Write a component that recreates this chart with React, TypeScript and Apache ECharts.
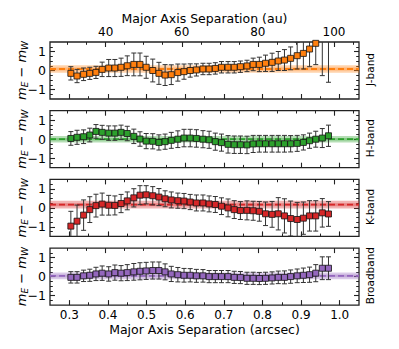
import React, { useEffect, useRef } from 'react';
import * as echarts from 'echarts';

const SEP_ARCSEC = [0.304, 0.320, 0.337, 0.353, 0.369, 0.385, 0.402, 0.418, 0.434, 0.450, 0.467, 0.483, 0.499, 0.516, 0.532, 0.548, 0.564, 0.581, 0.597, 0.613, 0.629, 0.646, 0.662, 0.678, 0.694, 0.711, 0.727, 0.743, 0.760, 0.776, 0.792, 0.808, 0.825, 0.841, 0.857, 0.873, 0.890, 0.906, 0.922, 0.938, 0.955, 0.971];

const J_DIFF = [-0.15, -0.29, -0.2, -0.15, -0.1, 0.06, 0.13, 0.13, 0.17, 0.25, 0.32, 0.32, 0.17, 0.0, -0.15, -0.24, -0.22, -0.11, -0.06, 0.0, 0.03, 0.08, 0.08, 0.11, 0.17, 0.17, 0.17, 0.2, 0.24, 0.32, 0.32, 0.38, 0.43, 0.5, 0.55, 0.64, 0.78, 0.9, 1.13, 1.43, 2.0, 2.2];
const J_ERR = [0.35, 0.35, 0.33, 0.32, 0.32, 0.38, 0.45, 0.45, 0.48, 0.52, 0.6, 0.6, 0.58, 0.6, 0.58, 0.55, 0.52, 0.45, 0.4, 0.35, 0.32, 0.3, 0.3, 0.3, 0.3, 0.3, 0.3, 0.3, 0.3, 0.33, 0.38, 0.43, 0.48, 0.5, 0.55, 0.6, 0.7, 0.82, 0.93, 1.12, 2.27, 2.82];

const H_DIFF = [0.04, 0.1, 0.13, 0.22, 0.41, 0.36, 0.32, 0.32, 0.36, 0.3, 0.15, 0.01, -0.1, -0.11, -0.17, -0.13, -0.06, 0.0, 0.06, 0.06, 0.04, 0.0, -0.03, -0.13, -0.18, -0.27, -0.29, -0.29, -0.3, -0.25, -0.24, -0.24, -0.24, -0.24, -0.24, -0.24, -0.22, -0.17, -0.08, 0.0, 0.06, 0.18];
const H_ERR = [0.36, 0.37, 0.36, 0.36, 0.36, 0.37, 0.38, 0.38, 0.38, 0.38, 0.38, 0.38, 0.4, 0.4, 0.4, 0.4, 0.42, 0.44, 0.46, 0.46, 0.46, 0.45, 0.45, 0.45, 0.45, 0.46, 0.46, 0.46, 0.46, 0.45, 0.44, 0.44, 0.44, 0.44, 0.44, 0.43, 0.42, 0.4, 0.4, 0.42, 0.5, 0.56];

const K_DIFF = [-0.96, -0.7, -0.38, -0.09, 0.12, 0.2, 0.14, 0.13, 0.23, 0.37, 0.53, 0.67, 0.69, 0.64, 0.57, 0.48, 0.42, 0.38, 0.36, 0.31, 0.26, 0.26, 0.21, 0.18, 0.09, 0.0, -0.09, -0.14, -0.13, -0.15, -0.18, -0.31, -0.34, -0.31, -0.42, -0.56, -0.61, -0.54, -0.42, -0.42, -0.26, -0.32];
const K_ERR = [0.78, 0.85, 0.8, 0.68, 0.6, 0.58, 0.52, 0.5, 0.48, 0.47, 0.48, 0.5, 0.48, 0.48, 0.45, 0.42, 0.42, 0.4, 0.4, 0.4, 0.42, 0.42, 0.42, 0.42, 0.44, 0.47, 0.47, 0.47, 0.5, 0.5, 0.52, 0.62, 0.68, 0.85, 0.9, 0.92, 0.9, 0.85, 0.8, 0.8, 0.75, 0.65];

const B_DIFF = [-0.04, -0.04, 0.04, 0.07, 0.14, 0.18, 0.14, 0.21, 0.18, 0.21, 0.25, 0.28, 0.3, 0.32, 0.32, 0.25, 0.14, 0.1, 0.07, 0.07, 0.04, 0.04, 0.0, 0.0, 0.0, 0.0, -0.04, -0.05, -0.09, -0.09, -0.1, -0.09, -0.07, -0.04, -0.04, 0.0, 0.04, 0.07, 0.1, 0.18, 0.44, 0.44];
const B_ERR = [0.3, 0.3, 0.3, 0.32, 0.35, 0.38, 0.38, 0.4, 0.4, 0.42, 0.44, 0.45, 0.45, 0.45, 0.45, 0.42, 0.4, 0.38, 0.36, 0.35, 0.34, 0.33, 0.32, 0.32, 0.32, 0.32, 0.32, 0.32, 0.32, 0.32, 0.32, 0.32, 0.32, 0.33, 0.34, 0.35, 0.36, 0.38, 0.4, 0.45, 0.6, 0.6];

const PANEL_NAMES = ['J-band', 'H-band', 'K-band', 'Broadband'];
const PANEL_COLORS = ['#ff7f0e', '#2ca02c', '#d62728', '#9467bd'];
const BAND_MEAN = [0.08, 0.0, 0.17, 0.035];
const BAND_HALF = [0.2, 0.17, 0.2, 0.175];

const DIST_PC = 101.5; // au per arcsec
const AS_MAJOR = [0.3, 0.4, 0.5, 0.6, 0.7, 0.8, 0.9, 1.0];
const AS_MINOR = [0.35, 0.45, 0.55, 0.65, 0.75, 0.85, 0.95];
const AU_MAJOR = [40, 60, 80, 100];
const AU_MINOR = [30, 35, 45, 50, 55, 65, 70, 75, 85, 90, 95, 105];
const Y_MAJOR = [-1, 0, 1];
const Y_MINOR = [-1.25, -0.75, -0.5, -0.25, 0.25, 0.5, 0.75, 1.25];

const DIFFS = [J_DIFF, H_DIFF, K_DIFF, B_DIFF];
const ERRS = [J_ERR, H_ERR, K_ERR, B_ERR];

const FONT = 'DejaVu Sans';
const TICK = '#222';
const GRID_TOPS = [42, 110.7, 179.4, 248.1];
const GRID_H = 57;
const GRID_L = 50;
const GRID_W = 309;

function rgba(hex: string, a: number) {
  const n = parseInt(hex.slice(1), 16);
  return `rgba(${(n >> 16) & 255},${(n >> 8) & 255},${n & 255},${a})`;
}

export default function App() {
  const ref = useRef<HTMLDivElement>(null);
  useEffect(() => {
    document.body.style.margin = '0';
    const chart = echarts.init(ref.current!, null, { renderer: 'svg' });
    const grids: any[] = [];
    const xAxes: any[] = [];
    const yAxes: any[] = [];
    const series: any[] = [];
    const graphics: any[] = [];

    const xBase = (g: number) => ({
      type: 'value', gridIndex: g, min: 0.25, max: 1.05,
      axisLine: { show: false, onZero: false }, splitLine: { show: false },
    });
    const yBase = (g: number) => ({
      type: 'value', gridIndex: g, min: -1.5, max: 1.5,
      axisLine: { show: false, onZero: false }, splitLine: { show: false },
    });

    for (let g = 0; g < 4; g++) {
      grids.push({
        left: GRID_L, top: GRID_TOPS[g], width: GRID_W, height: GRID_H,
        show: true, borderColor: '#222', borderWidth: 1.3, backgroundColor: 'transparent',
      });
      xAxes.push({
        ...xBase(g), position: 'bottom',
        axisTick: { show: true, inside: true, length: 5, customValues: AS_MAJOR, lineStyle: { color: TICK, width: 1.1 } },
        axisLabel: g === 3 ? {
          show: true, customValues: AS_MAJOR, margin: 3, fontSize: 12, lineHeight: 13, fontFamily: FONT, color: '#000',
          formatter: (v: number) => v.toFixed(1),
        } : { show: false },
      });
      xAxes.push({
        ...xBase(g), position: 'bottom',
        axisTick: { show: true, inside: true, length: 2.8, customValues: AS_MINOR, lineStyle: { color: TICK, width: 1 } },
        axisLabel: { show: false },
      });
      xAxes.push({
        ...xBase(g), position: 'top',
        axisTick: { show: true, inside: true, length: 5, customValues: AU_MAJOR.map((a) => a / DIST_PC), lineStyle: { color: TICK, width: 1.1 } },
        axisLabel: g === 0 ? {
          show: true, customValues: AU_MAJOR.map((a) => a / DIST_PC), margin: 3.5, fontSize: 12, lineHeight: 13, fontFamily: FONT, color: '#000',
          formatter: (v: number) => String(Math.round(v * DIST_PC)),
        } : { show: false },
      });
      xAxes.push({
        ...xBase(g), position: 'top',
        axisTick: { show: true, inside: true, length: 2.8, customValues: AU_MINOR.map((a) => a / DIST_PC), lineStyle: { color: TICK, width: 1 } },
        axisLabel: { show: false },
      });

      yAxes.push({
        ...yBase(g), position: 'left',
        axisTick: { show: true, inside: true, length: 5, customValues: Y_MAJOR, lineStyle: { color: TICK, width: 1.1 } },
        axisLabel: {
          show: true, customValues: Y_MAJOR, margin: 4, fontSize: 12.5, fontFamily: FONT, color: '#000',
          formatter: (v: number) => (v < 0 ? '\u2212' + Math.abs(v) : String(v)),
        },
      });
      yAxes.push({
        ...yBase(g), position: 'left',
        axisTick: { show: true, inside: true, length: 2.8, customValues: Y_MINOR, lineStyle: { color: TICK, width: 1 } },
        axisLabel: { show: false },
      });
      yAxes.push({
        ...yBase(g), position: 'right',
        axisTick: { show: true, inside: true, length: 5, customValues: Y_MAJOR, lineStyle: { color: TICK, width: 1.1 } },
        axisLabel: { show: false },
      });
      yAxes.push({
        ...yBase(g), position: 'right',
        axisTick: { show: true, inside: true, length: 2.8, customValues: Y_MINOR, lineStyle: { color: TICK, width: 1 } },
        axisLabel: { show: false },
      });

      const color = PANEL_COLORS[g];
      const mean = BAND_MEAN[g];
      const half = BAND_HALF[g];
      const xi = g * 4;
      const yi = g * 4;

      series.push({
        type: 'custom', xAxisIndex: xi, yAxisIndex: yi, z: 1, silent: true, clip: true,
        data: [[0.5, mean]],
        renderItem: (params: any, api: any) => {
          const cs = params.coordSys;
          const yc = (v: number) => api.coord([0.5, v])[1];
          const m = api.value(1);
          return {
            type: 'group',
            children: [
              { type: 'rect', shape: { x: cs.x, y: yc(m + half), width: cs.width, height: yc(m - half) - yc(m + half) }, style: { fill: rgba(color, 0.35) } },
              { type: 'rect', shape: { x: cs.x, y: yc(m + half * 0.4), width: cs.width, height: yc(m - half * 0.4) - yc(m + half * 0.4) }, style: { fill: rgba(color, 0.35) } },
              { type: 'line', shape: { x1: cs.x, y1: yc(m), x2: cs.x + cs.width, y2: yc(m) }, style: { stroke: color, lineWidth: 1.8, lineDash: [6, 3] } },
            ],
          };
        },
      });

      const diff = DIFFS[g];
      const err = ERRS[g];
      series.push({
        type: 'custom', xAxisIndex: xi, yAxisIndex: yi, z: 2, silent: true, clip: true,
        data: SEP_ARCSEC.map((x, i) => [x, diff[i], err[i]]),
        renderItem: (params: any, api: any) => {
          const x = api.value(0);
          const y = api.value(1);
          const e = api.value(2);
          const t = api.coord([x, y + e]);
          const b = api.coord([x, y - e]);
          const st = { stroke: '#333', lineWidth: 1 };
          const cw = 2.5;
          return {
            type: 'group',
            children: [
              { type: 'line', shape: { x1: t[0], y1: t[1], x2: b[0], y2: b[1] }, style: st },
              { type: 'line', shape: { x1: t[0] - cw, y1: t[1], x2: t[0] + cw, y2: t[1] }, style: st },
              { type: 'line', shape: { x1: b[0] - cw, y1: b[1], x2: b[0] + cw, y2: b[1] }, style: st },
            ],
          };
        },
      });

      series.push({
        type: 'scatter', xAxisIndex: xi, yAxisIndex: yi, z: 3, silent: true, clip: true,
        symbol: 'rect', symbolSize: 6,
        itemStyle: { color, borderColor: '#111', borderWidth: 0.8, opacity: 1 },
        data: SEP_ARCSEC.map((x, i) => [x, diff[i]]),
      });

      const cy = GRID_TOPS[g] + GRID_H / 2;
      graphics.push({
        type: 'text', x: 21.5, y: cy, rotation: Math.PI / 2, silent: true,
        style: {
          text: '{m|m}{s|E}{o| \u2212 }{m|m}{s|W}',
          align: 'center', verticalAlign: 'middle', fill: '#000',
          rich: {
            m: { fontFamily: FONT, fontStyle: 'italic', fontSize: 13, lineHeight: 16, fill: '#000' },
            o: { fontFamily: FONT, fontSize: 13, lineHeight: 16, fill: '#000' },
            s: { fontFamily: FONT, fontStyle: 'italic', fontSize: 9, lineHeight: 9, verticalAlign: 'bottom', fill: '#000' },
          },
        },
      });
      graphics.push({
        type: 'text', x: 370, y: cy - 1, rotation: Math.PI / 2, silent: true,
        style: { text: PANEL_NAMES[g], fontFamily: FONT, fontSize: 10.5, fill: '#000', align: 'center', verticalAlign: 'middle' },
      });
    }

    graphics.push({
      type: 'text', x: GRID_L + GRID_W / 2, y: 18.5, silent: true,
      style: { text: 'Major Axis Separation (au)', fontFamily: FONT, fontSize: 12.5, lineHeight: 14, fill: '#000', align: 'center', verticalAlign: 'middle' },
    });
    graphics.push({
      type: 'text', x: GRID_L + GRID_W / 2, y: 329, silent: true,
      style: { text: 'Major Axis Separation (arcsec)', fontFamily: FONT, fontSize: 12.5, lineHeight: 14, fill: '#000', align: 'center', verticalAlign: 'middle' },
    });

    chart.setOption({
      animation: false,
      backgroundColor: '#fff',
      grid: grids,
      xAxis: xAxes,
      yAxis: yAxes,
      series,
      graphic: graphics,
    });
    return () => chart.dispose();
  }, []);
  return <div ref={ref} style={{ width: 399, height: 349 }} />;
}
